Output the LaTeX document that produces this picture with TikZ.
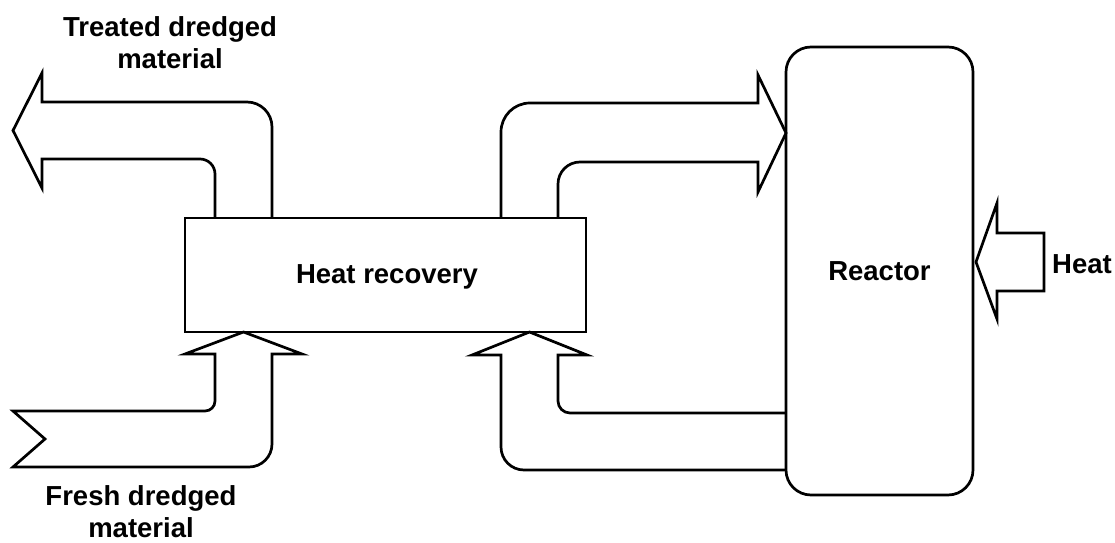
\documentclass[tikz,border=0pt]{standalone}
\usepackage{fontspec}
\setmainfont{Liberation Sans}
\begin{document}
\begin{tikzpicture}[x=1pt,y=1pt,
  line/.style={line width=2.7pt, draw=black},
  lbl/.style={font=\fontsize{27.5}{32}\selectfont\bfseries, inner sep=0pt, align=center}]
\useasboundingbox (0,0) rectangle (1115,542);
% boxes
\node[line, draw, minimum width=401pt, minimum height=114pt, inner sep=0pt] (hr) at (385.5,267) {};
\node[line, draw, rounded corners=25pt, minimum width=187pt, minimum height=448pt, inner sep=0pt] (re) at (879.5,271) {};
\node[lbl, anchor=base] (hrt) at (387,259) {Heat recovery};
\node[lbl] (ret) at (re.center) {Reactor};
% treated dredged material outlet
\draw[line] (215,324) -- (215,368) arc[start angle=0,end angle=90,radius=15pt]
  -- (42,383) -- (42,354) -- (13,411.5) -- (42,469) -- (42,440) -- (247,440)
  arc[start angle=90,end angle=0,radius=25pt] -- (272,324);
% fresh dredged material inlet
\draw[line] (13,131) -- (205,131) arc[start angle=270,end angle=360,radius=10pt]
  -- (215,188) -- (185,188) -- (243.5,210) -- (302,188) -- (272,188) -- (272,98)
  arc[start angle=0,end angle=-90,radius=23pt] -- (13,75) -- (45,103) -- cycle;
% heat recovery to reactor
\draw[line] (501,324) -- (501,410) arc[start angle=180,end angle=90,radius=29pt]
  -- (758,439) -- (758,467) -- (786,409) -- (758,350) -- (758,380) -- (580,380)
  arc[start angle=90,end angle=180,radius=22pt] -- (558,324);
% reactor back to heat recovery
\draw[line] (786,129) -- (570,129) arc[start angle=270,end angle=180,radius=12pt]
  -- (558,187) -- (587,187) -- (529.5,210) -- (472,187) -- (501,187) -- (501,95)
  arc[start angle=180,end angle=270,radius=23pt] -- (786,72);
% heat input
\draw[line] (976,280) -- (997,339) -- (997,309) -- (1044,309) -- (1044,251)
  -- (997,251) -- (997,223) -- cycle;
\node[lbl, anchor=base west] (heat) at (1052,269) {Heat};
% labels
\node[lbl, anchor=north] (treated) at (170,526) {Treated dredged\\material};
\node[lbl, anchor=north] (fresh) at (141,57) {Fresh dredged\\material};
\end{tikzpicture}
\end{document}
